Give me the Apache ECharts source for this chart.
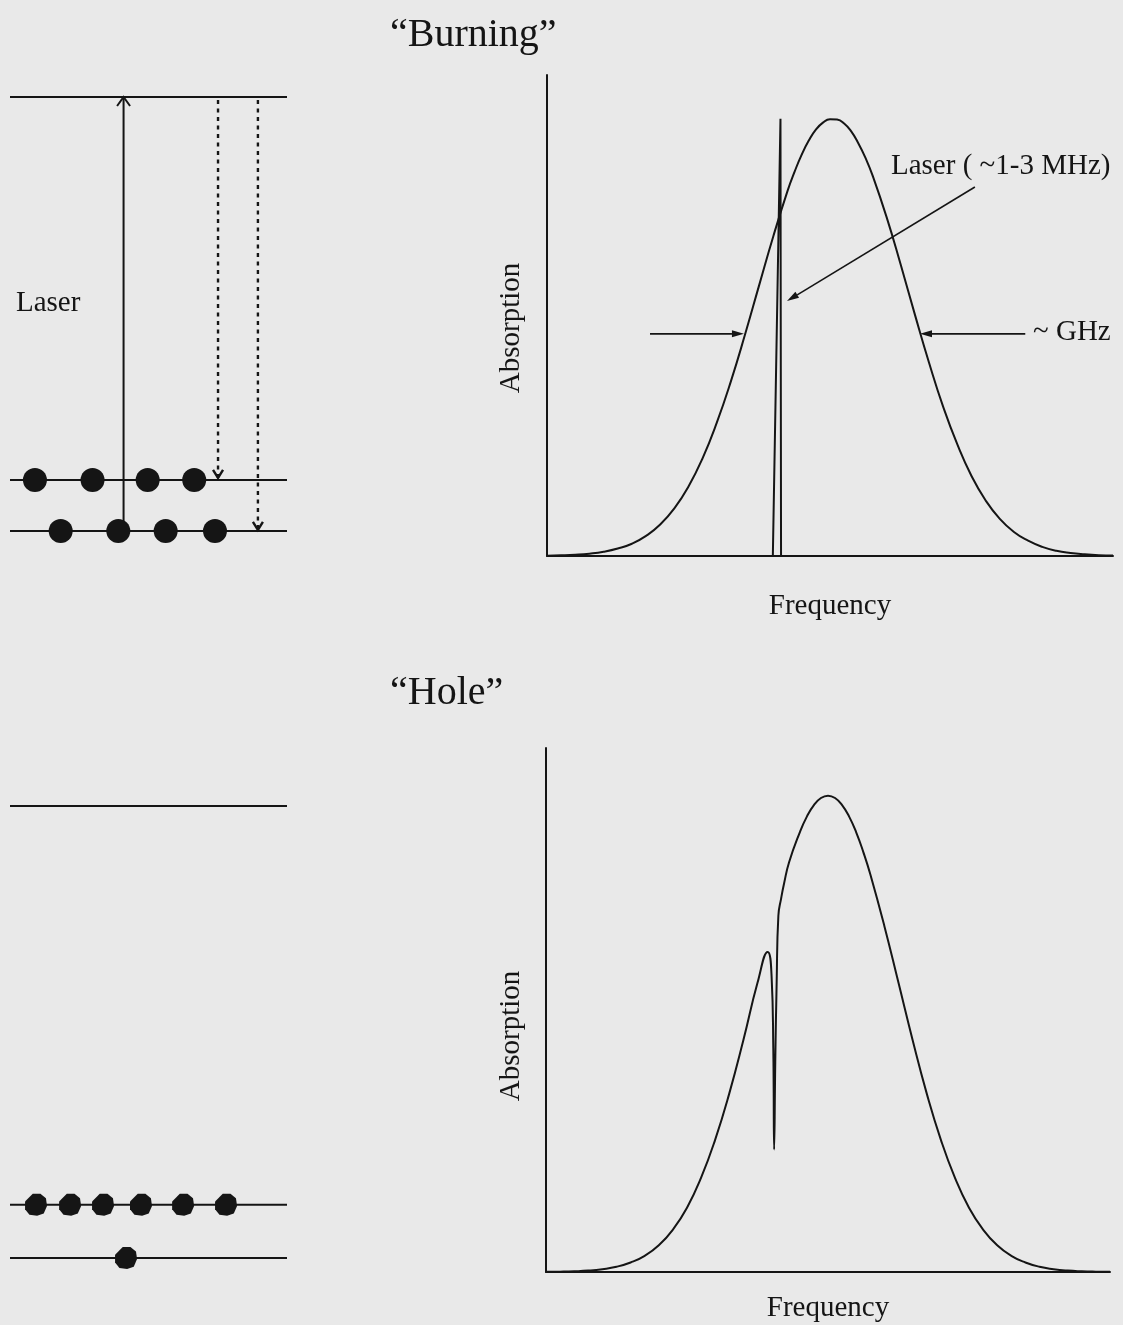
<!DOCTYPE html>
<html>
<head>
<meta charset="utf-8">
<script src="https://cdn.jsdelivr.net/npm/echarts@6/dist/echarts.min.js"></script>
<style>
  html, body { margin: 0; padding: 0; background: #e9e9e9; }
  #chart { width: 1123px; height: 1325px; }
</style>
</head>
<body>
<div id="chart"></div>
<script>
// ---- Absorption profiles (frequency in arbitrary units, absorption normalised to the peak) ----
const burnFreq = [0, 0.25, 0.5, 0.75, 1, 1.25, 1.5, 1.75, 2, 2.25, 2.5, 2.75, 3, 3.25, 3.5, 3.75,
  4, 4.25, 4.375, 4.5, 4.625, 4.75, 4.875, 5, 5.125, 5.25, 5.375, 5.5, 5.625, 5.75, 6, 6.25, 6.5,
  6.75, 7, 7.25, 7.5, 7.75, 8, 8.25, 8.5, 8.75, 9, 9.25, 9.5, 9.75, 10];
const burnAbs = [0.0007, 0.0015, 0.0029, 0.0054, 0.0097, 0.017, 0.028, 0.046, 0.072, 0.109, 0.159,
  0.224, 0.305, 0.400, 0.507, 0.620, 0.732, 0.835, 0.879, 0.918, 0.950, 0.975, 0.991, 0.999, 0.998,
  0.989, 0.971, 0.944, 0.911, 0.871, 0.775, 0.666, 0.552, 0.442, 0.341, 0.255, 0.183, 0.127, 0.085,
  0.055, 0.035, 0.021, 0.012, 0.007, 0.004, 0.002, 0.001];

// narrow laser line (~MHz) inside the inhomogeneous band (~GHz)
const laserFreq = [3.99, 4.125, 4.135];
const laserAbs = [0, 1.0, 0];

// band after burning: a narrow hole where the laser sat
const holeFreq = [0, 0.25, 0.5, 0.75, 1, 1.25, 1.5, 1.75, 2, 2.25, 2.5, 2.75, 3, 3.25, 3.5, 3.75,
  3.93, 4.0, 4.03, 4.045, 4.065, 4.09, 4.12, 4.17, 4.22, 4.31, 4.5, 4.625, 4.75, 4.875, 5, 5.125,
  5.25, 5.375, 5.5, 5.625, 5.75, 6, 6.25, 6.5, 6.75, 7, 7.25, 7.5, 7.75, 8, 8.25, 8.5, 8.75, 9,
  9.25, 9.5, 9.75, 10];
const holeAbs = [0.0003, 0.0007, 0.0015, 0.003, 0.006, 0.011, 0.020, 0.034, 0.056, 0.089, 0.135,
  0.198, 0.278, 0.375, 0.487, 0.607, 0.672, 0.62, 0.47, 0.257, 0.44, 0.61, 0.748, 0.785, 0.815,
  0.86, 0.923, 0.956, 0.980, 0.995, 1.0, 0.995, 0.980, 0.956, 0.923, 0.882, 0.835, 0.726, 0.607,
  0.487, 0.375, 0.278, 0.198, 0.135, 0.089, 0.056, 0.034, 0.020, 0.011, 0.006, 0.003, 0.0015,
  0.0007, 0.0003];

// annotation arrows on the burning panel: [fromFreq, fromAbs, toFreq, toAbs]
const laserPointer = [7.56, 0.844, 4.24, 0.583];
const widthArrows = [[1.82, 0.508, 3.48, 0.508], [8.45, 0.508, 6.59, 0.508]];

// ---- Level schemes (energy in units of the ground-state splitting) ----
const levelEnergy = [0, 1, 8.5];          // lower ground, upper ground, excited state
const levelSpan = [0, 10];
const burnDotsUpper = [0.90, 2.98, 4.97, 6.65];
const burnDotsLower = [1.83, 3.91, 5.62, 7.40];
const holeDotsUpper = [0.94, 2.17, 3.36, 4.73, 6.25, 7.80];
const holeDotsLower = [4.19];
const pumpArrow = [4.1, 0, 4.1, 8.5];
const decayArrows = [[7.51, 8.44, 7.51, 1.04], [8.95, 8.44, 8.95, 0.02]];

const INK = '#151515';
const SERIF = '"Liberation Serif", "Times New Roman", serif';
const zip = (xs, ys) => xs.map((x, i) => [x, ys[i]]);

// Arrow drawn in pixel space from two data points; head is filled or an open chevron.
function arrowRenderer(opts) {
  return function (params, api) {
    const p1 = api.coord([api.value(0), api.value(1)]);
    const p2 = api.coord([api.value(2), api.value(3)]);
    const a = Math.atan2(p2[1] - p1[1], p2[0] - p1[0]);
    const c = Math.cos(a), s = Math.sin(a);
    const bx = p2[0] - opts.len * c, by = p2[1] - opts.len * s;
    const w1 = [bx + opts.half * s, by - opts.half * c];
    const w2 = [bx - opts.half * s, by + opts.half * c];
    const shaftEnd = opts.open ? p2 : [bx, by];
    const children = [{
      type: 'line',
      shape: { x1: p1[0], y1: p1[1], x2: shaftEnd[0], y2: shaftEnd[1] },
      style: { stroke: INK, lineWidth: opts.width, lineDash: opts.dash || null, fill: null }
    }];
    if (opts.open) {
      children.push({ type: 'polyline', shape: { points: [w1, p2, w2] },
        style: { stroke: INK, lineWidth: opts.width, fill: null } });
    } else {
      children.push({ type: 'polygon', shape: { points: [p2, w1, w2] }, style: { fill: INK } });
    }
    return { type: 'group', children };
  };
}

// Horizontal level line across the scheme
function levelRenderer(params, api) {
  const p1 = api.coord([api.value(0), api.value(1)]);
  const p2 = api.coord([api.value(2), api.value(1)]);
  return { type: 'line', shape: { x1: p1[0], y1: p1[1], x2: p2[0], y2: p2[1] },
    style: { stroke: INK, lineWidth: 2 } };
}

const plotAxisLine = { show: true, onZero: false, lineStyle: { color: INK, width: 2 } };
const nameStyle = { fontFamily: SERIF, fontSize: 29, color: INK };

function plotX(grid, gap) {
  return { gridIndex: grid, type: 'value', min: 0, max: 10, axisLine: plotAxisLine,
    axisTick: { show: false }, axisLabel: { show: false }, splitLine: { show: false },
    name: 'Frequency', nameLocation: 'middle', nameGap: gap, nameTextStyle: nameStyle };
}
function plotY(grid) {
  return { gridIndex: grid, type: 'value', min: 0, max: 1.1, axisLine: plotAxisLine,
    axisTick: { show: false }, axisLabel: { show: false }, splitLine: { show: false } };
}
function schemeX(grid) {
  return { gridIndex: grid, type: 'value', min: 0, max: 10, show: false };
}
function schemeY(grid) {
  return { gridIndex: grid, type: 'value', min: 0, max: 8.5, show: false };
}

function verticalTitle(text, y) {
  return { type: 'text', x: 511, y: y, rotation: Math.PI / 2,
    style: { text: text, font: '29px ' + SERIF, fill: INK, align: 'center', verticalAlign: 'middle' } };
}

const dotSymbol = 'path://M-3,-10 L4,-10 L9,-6 L10,1 L7,8 L1,10 L-6,9 L-10,4 L-10,-3 Z';

const option = {
  backgroundColor: '#e9e9e9',
  animation: false,
  title: [
    { text: '\u201CBurning\u201D', left: 385, top: 10,
      textStyle: { fontFamily: SERIF, fontSize: 40, fontWeight: 'normal', color: INK } },
    { text: '\u201CHole\u201D', left: 385, top: 668,
      textStyle: { fontFamily: SERIF, fontSize: 40, fontWeight: 'normal', color: INK } }
  ],
  grid: [
    { left: 547, top: 75, width: 566, height: 481 },
    { left: 546, top: 748, width: 564, height: 524 },
    { left: 10, top: 97, width: 277, height: 434 },
    { left: 10, top: 806, width: 277, height: 452 }
  ],
  xAxis: [plotX(0, 36), plotX(1, 22), schemeX(2), schemeX(3)],
  yAxis: [plotY(0), plotY(1), schemeY(2), schemeY(3)],
  graphic: [
    verticalTitle('Absorption', 328),
    verticalTitle('Absorption', 1036),
    { type: 'text', left: 891, top: 152,
      style: { text: 'Laser ( ~1-3 MHz)', font: '29px ' + SERIF, fill: INK } },
    { type: 'text', left: 1033, top: 318,
      style: { text: '~ GHz', font: '29px ' + SERIF, fill: INK } },
    { type: 'text', left: 16, top: 289,
      style: { text: 'Laser', font: '29px ' + SERIF, fill: INK } }
  ],
  series: [
    { type: 'line', xAxisIndex: 0, yAxisIndex: 0, data: zip(burnFreq, burnAbs),
      smooth: true, showSymbol: false, lineStyle: { color: INK, width: 2 } },
    { type: 'line', xAxisIndex: 0, yAxisIndex: 0, data: zip(laserFreq, laserAbs),
      showSymbol: false, lineStyle: { color: INK, width: 2 } },
    { type: 'custom', xAxisIndex: 0, yAxisIndex: 0, clip: false,
      data: [laserPointer].concat(widthArrows),
      renderItem: arrowRenderer({ len: 12, half: 3.5, width: 1.6, open: false }) },

    { type: 'line', xAxisIndex: 1, yAxisIndex: 1, data: zip(holeFreq, holeAbs),
      smooth: true, showSymbol: false, lineStyle: { color: INK, width: 2 } },

    // level scheme during burning
    { type: 'custom', xAxisIndex: 2, yAxisIndex: 2, clip: false,
      data: levelEnergy.map(e => [levelSpan[0], e, levelSpan[1]]), renderItem: levelRenderer },
    { type: 'custom', xAxisIndex: 2, yAxisIndex: 2, clip: false, data: [pumpArrow],
      renderItem: arrowRenderer({ len: 9, half: 6.5, width: 2, open: true }) },
    { type: 'custom', xAxisIndex: 2, yAxisIndex: 2, clip: false, data: decayArrows,
      renderItem: arrowRenderer({ len: 8, half: 5, width: 2.4, open: true, dash: [4, 4.5] }) },
    { type: 'scatter', xAxisIndex: 2, yAxisIndex: 2, symbol: 'circle', symbolSize: 24,
      itemStyle: { color: INK, opacity: 1 }, z: 5,
      data: burnDotsUpper.map(x => [x, levelEnergy[1]]).concat(burnDotsLower.map(x => [x, levelEnergy[0]])) },

    // level scheme after burning
    { type: 'custom', xAxisIndex: 3, yAxisIndex: 3, clip: false,
      data: levelEnergy.map(e => [levelSpan[0], e, levelSpan[1]]), renderItem: levelRenderer },
    { type: 'scatter', xAxisIndex: 3, yAxisIndex: 3, symbol: dotSymbol, symbolSize: 22,
      itemStyle: { color: INK, opacity: 1 }, z: 5,
      data: holeDotsUpper.map(x => [x, levelEnergy[1]]).concat(holeDotsLower.map(x => [x, levelEnergy[0]])) }
  ]
};

const chart = echarts.init(document.getElementById('chart'), null, { renderer: 'canvas' });
chart.setOption(option);
</script>
</body>
</html>
